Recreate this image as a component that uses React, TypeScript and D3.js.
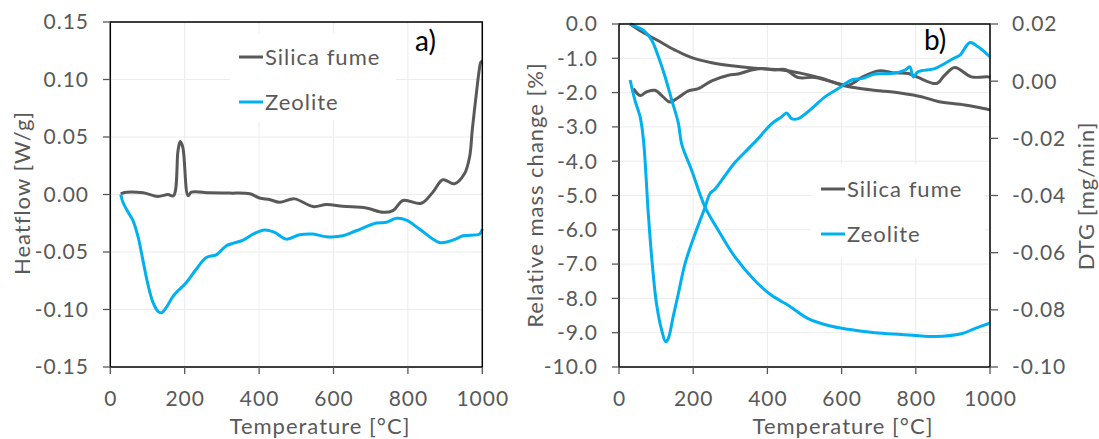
import React from "react";
import * as d3 from "d3";

// ---- panel a) heat flow ----
const hfSilicaT = [28, 43, 88, 128, 155, 170, 182, 188, 195, 209, 218, 267, 321, 375, 401, 428, 455, 495, 545, 581, 625, 688, 733, 760, 787, 836, 867, 894, 925, 952, 966, 973, 985, 990, 996, 1000];
const hfSilicaV = [0.0006, 0.002, 0.0015, -0.0017, 0, -0.001, 0.038, 0.046, 0.041, -0.001, 0.002, 0.0015, 0.0012, 0.0006, -0.003, -0.0044, -0.0067, -0.0038, -0.0105, -0.0087, -0.0102, -0.0117, -0.0155, -0.014, -0.0052, -0.0076, 0.002, 0.0128, 0.0093, 0.018, 0.033, 0.056, 0.0906, 0.104, 0.115, 0.116];
const hfZeoT = [28, 34, 48, 61, 75, 88, 101, 115, 128, 137, 151, 169, 204, 231, 258, 285, 312, 357, 384, 415, 442, 473, 509, 545, 581, 625, 661, 715, 742, 769, 796, 831, 885, 921, 948, 993, 1000];
const hfZeoV = [0, -0.0067, -0.0155, -0.0227, -0.0373, -0.0577, -0.078, -0.094, -0.1015, -0.1029, -0.098, -0.0883, -0.0767, -0.065, -0.0548, -0.0525, -0.0446, -0.0397, -0.0344, -0.0309, -0.033, -0.0388, -0.035, -0.0344, -0.0367, -0.0359, -0.0315, -0.0248, -0.0242, -0.0207, -0.0222, -0.03, -0.0417, -0.0397, -0.0359, -0.0344, -0.03];

// ---- panel b) mass change (left axis) and DTG (right axis) ----
const massSilicaT = [30, 61, 106, 151, 196, 250, 304, 366, 438, 492, 546, 600, 654, 708, 762, 815, 860, 932, 995, 1000];
const massSilicaV = [0, -0.22, -0.49, -0.76, -0.98, -1.13, -1.22, -1.29, -1.34, -1.44, -1.58, -1.78, -1.89, -1.95, -2.02, -2.12, -2.26, -2.36, -2.49, -2.5];
const dtgSilicaT = [39, 57, 75, 97, 119, 137, 160, 187, 214, 250, 295, 321, 357, 384, 420, 447, 483, 528, 573, 618, 654, 699, 744, 780, 806, 856, 878, 905, 950, 995, 1000];
const dtgSilicaV = [-0.0026, -0.005, -0.0037, -0.0032, -0.0055, -0.0073, -0.0057, -0.0034, -0.0026, 0.0001, 0.0021, 0.0025, 0.0039, 0.0044, 0.0039, 0.0041, 0.0013, 0.0013, -0.0002, -0.0014, 0.0013, 0.0036, 0.0029, 0.0027, 0.0013, -0.0008, 0.0021, 0.0048, 0.0015, 0.0015, 0.0013];
const massZeoT = [30, 43, 70, 88, 106, 124, 142, 160, 169, 196, 232, 268, 313, 366, 411, 456, 510, 564, 618, 690, 762, 851, 923, 959, 995, 1000];
const massZeoV = [0, -0.06, -0.22, -0.47, -0.95, -1.53, -2.21, -2.89, -3.5, -4.27, -5.34, -6.02, -6.8, -7.48, -7.91, -8.2, -8.59, -8.79, -8.9, -9.0, -9.05, -9.11, -9.03, -8.88, -8.74, -8.72];
const dtgZeoT = [30, 43, 57, 66, 79, 88, 101, 115, 126, 133, 146, 160, 178, 205, 232, 245, 259, 286, 313, 348, 375, 411, 438, 452, 465, 483, 519, 555, 591, 627, 654, 690, 735, 771, 784, 793, 806, 851, 878, 905, 919, 946, 968, 995, 1000];
const dtgZeoV = [0.0004, -0.0067, -0.0125, -0.0207, -0.0464, -0.0615, -0.0778, -0.0871, -0.0912, -0.09, -0.0824, -0.0743, -0.0638, -0.0534, -0.0441, -0.0394, -0.0377, -0.033, -0.0284, -0.0237, -0.0201, -0.0149, -0.0125, -0.0111, -0.0131, -0.0131, -0.0096, -0.0055, -0.0026, 0.0004, 0.0009, 0.0025, 0.0027, 0.0039, 0.005, 0.0015, 0.0033, 0.0044, 0.0062, 0.0082, 0.0091, 0.0135, 0.012, 0.0091, 0.0085];

const xTicks = [0, 200, 400, 600, 800, 1000];
const hfTicks = [0.15, 0.1, 0.05, 0, -0.05, -0.1, -0.15];
const massTicks = [0, -1, -2, -3, -4, -5, -6, -7, -8, -9, -10];
const dtgTicks = [0.02, 0, -0.02, -0.04, -0.06, -0.08, -0.1];
const seriesNames = ["Silica fume", "Zeolite"];

const GRAY = "#595959";
const BLUE = "#00b0f0";
const GRID = "#ececec";
const FONT = "Lato, 'Open Sans', sans-serif";

const zip = (t: number[], v: number[]) => t.map((d, i) => [d, v[i]] as [number, number]);
const fmt = (p: string) => (t: number) => d3.format(p)(t).replace("−", "-");

const App = () => {
  const xa = d3.scaleLinear().domain([0, 1000]).range([110.3, 482.3]);
  const ya = d3.scaleLinear().domain([-0.15, 0.15]).range([367, 22]);
  const xb = d3.scaleLinear().domain([0, 1000]).range([619, 990]);
  const yb = d3.scaleLinear().domain([-10, 0]).range([367, 24]);
  const yd = d3.scaleLinear().domain([-0.1, 0.02]).range([367, 24]);

  const lineA = d3.line<[number, number]>().x(d => xa(d[0])).y(d => ya(d[1])).curve(d3.curveCatmullRom);
  const lineBm = d3.line<[number, number]>().x(d => xb(d[0])).y(d => yb(d[1])).curve(d3.curveCatmullRom);
  const lineBd = d3.line<[number, number]>().x(d => xb(d[0])).y(d => yd(d[1])).curve(d3.curveCatmullRom);

  const tickText = { fontFamily: FONT, fontSize: 21, fill: GRAY, letterSpacing: 1 } as const;

  const legend = (x: number, y: number) => (
    <g>
      {seriesNames.map((n, i) => (
        <g key={n}>
          <line x1={x} x2={x + 24} y1={y + i * 45} y2={y + i * 45} stroke={i === 0 ? GRAY : BLUE} strokeWidth={3} />
          <text x={x + 26} y={y + i * 45} dy="0.35em" {...tickText} fontSize={22}>{n}</text>
        </g>
      ))}
    </g>
  );

  return (
    <svg width={1099} height={439} style={{ position: "absolute", left: 0, top: 0 }}>
      <rect width={1099} height={439} fill="#fff" />
      {/* ---------- panel a ---------- */}
      {xTicks.map(t => <line key={"ga" + t} x1={xa(t)} x2={xa(t)} y1={22} y2={367} stroke={GRID} />)}
      {hfTicks.map(t => <line key={"gha" + t} x1={110.3} x2={482.3} y1={ya(t)} y2={ya(t)} stroke={GRID} />)}
      <rect x={230} y={33} width={166} height={88} fill="#fff" />
      <path d={lineA(zip(hfSilicaT, hfSilicaV)) || ""} fill="none" stroke={GRAY} strokeWidth={3} />
      <path d={lineA(zip(hfZeoT, hfZeoV)) || ""} fill="none" stroke={BLUE} strokeWidth={3} />
      <rect x={110.3} y={22} width={372} height={345} fill="none" stroke="#000" strokeWidth={1.5} />
      {hfTicks.map(t => (
        <g key={"ta" + t}>
          <line x1={103} x2={110.3} y1={ya(t)} y2={ya(t)} stroke={GRAY} strokeWidth={1.3} />
          <text x={89} y={ya(t)} dy="0.35em" textAnchor="end" {...tickText}>{fmt(".2f")(t)}</text>
        </g>
      ))}
      {xTicks.map(t => (
        <g key={"txa" + t}>
          <line x1={xa(t)} x2={xa(t)} y1={367} y2={374} stroke={GRAY} strokeWidth={1.3} />
          <text x={xa(t) + 0.5} y={406} textAnchor="middle" {...tickText}>{t}</text>
        </g>
      ))}
      <text x={320} y={434} textAnchor="middle" {...tickText} fontSize={22}>Temperature [°C]</text>
      <text transform="translate(30,193) rotate(-90)" textAnchor="middle" {...tickText} fontSize={22}>Heatflow [W/g]</text>
      <text x={415} y={51} fontFamily={FONT} fontSize={28} fill="#000">a)</text>
      {legend(239, 57)}

      {/* ---------- panel b ---------- */}
      {xTicks.map(t => <line key={"gb" + t} x1={xb(t)} x2={xb(t)} y1={24} y2={367} stroke={GRID} />)}
      {massTicks.map(t => <line key={"ghb" + t} x1={619} x2={990} y1={yb(t)} y2={yb(t)} stroke={GRID} />)}
      <rect x={811} y={164} width={174} height={94} fill="#fff" />
      <path d={lineBm(zip(massSilicaT, massSilicaV)) || ""} fill="none" stroke={GRAY} strokeWidth={3} />
      <path d={lineBd(zip(dtgSilicaT, dtgSilicaV)) || ""} fill="none" stroke={GRAY} strokeWidth={3} />
      <path d={lineBm(zip(massZeoT, massZeoV)) || ""} fill="none" stroke={BLUE} strokeWidth={3} />
      <path d={lineBd(zip(dtgZeoT, dtgZeoV)) || ""} fill="none" stroke={BLUE} strokeWidth={3} />
      <rect x={619} y={24} width={371} height={343} fill="none" stroke="#000" strokeWidth={1.5} />
      {massTicks.map(t => (
        <g key={"tb" + t}>
          <line x1={612} x2={619} y1={yb(t)} y2={yb(t)} stroke={GRAY} strokeWidth={1.3} />
          <text x={598} y={yb(t)} dy="0.35em" textAnchor="end" {...tickText}>{fmt(".1f")(t)}</text>
        </g>
      ))}
      {dtgTicks.map(t => (
        <g key={"td" + t}>
          <line x1={990} x2={998} y1={yd(t)} y2={yd(t)} stroke={GRAY} strokeWidth={1.3} />
          <text x={1012} y={yd(t)} dy="0.35em" textAnchor="start" {...tickText}>{fmt(".2f")(t)}</text>
        </g>
      ))}
      {xTicks.map(t => (
        <g key={"txb" + t}>
          <line x1={xb(t)} x2={xb(t)} y1={367} y2={374} stroke={GRAY} strokeWidth={1.3} />
          <text x={xb(t) + 0.5} y={406} textAnchor="middle" {...tickText}>{t}</text>
        </g>
      ))}
      <text x={843} y={434} textAnchor="middle" {...tickText} fontSize={22}>Temperature [°C]</text>
      <text transform="translate(543,195) rotate(-90)" textAnchor="middle" {...tickText} fontSize={22}>Relative mass change [%]</text>
      <text transform="translate(1094,196) rotate(-90)" textAnchor="middle" {...tickText} fontSize={22}>DTG [mg/min]</text>
      <text x={924} y={50} fontFamily={FONT} fontSize={28} fill="#000">b)</text>
      {legend(821, 189)}
    </svg>
  );
};

export default App;
